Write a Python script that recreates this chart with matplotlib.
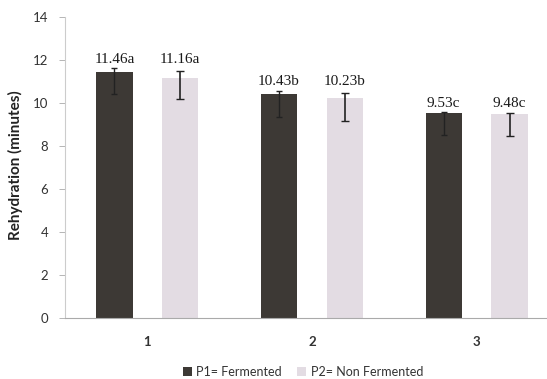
import matplotlib
matplotlib.use("Agg")
import matplotlib.pyplot as plt
import numpy as np

# Rehydration time per sample, fermented (P1) vs non-fermented (P2)
categories = ["1", "2", "3"]
p1_values = [11.46, 10.43, 9.53]
p2_values = [11.16, 10.23, 9.48]
p1_letters = ["a", "b", "c"]
p2_letters = ["a", "b", "c"]
# error extents below / above each bar
p1_err_low = [1.06, 1.06, 1.02]
p1_err_high = [0.15, 0.15, 0.07]
p2_err_low = [0.97, 1.05, 1.03]
p2_err_high = [0.31, 0.22, 0.07]
series_names = ["P1= Fermented", "P2= Non Fermented"]
y_ticks = [0, 2, 4, 6, 8, 10, 12, 14]

W, H = 547, 379
fig = plt.figure(figsize=(W / 100, H / 100), dpi=100)
left, right = 65 / W, 559 / W
bottom, top = 1 - 318 / H, 1 - 17 / H
ax = fig.add_axes([left, bottom, right - left, top - bottom])

x = np.arange(1, len(categories) + 1)
bw = 0.22
off = 0.20
dark = "#3d3935"
light = "#e3dce3"

b1 = ax.bar(x - off, p1_values, width=bw, color=dark, zorder=2, label=series_names[0])
b2 = ax.bar(x + off, p2_values, width=bw, color=light, zorder=2, label=series_names[1])
ax.errorbar(x - off, p1_values, yerr=[p1_err_low, p1_err_high], fmt="none",
            ecolor="#222222", elinewidth=1.0, capsize=2.5, capthick=1.0, zorder=3)
ax.errorbar(x + off, p2_values, yerr=[p2_err_low, p2_err_high], fmt="none",
            ecolor="#222222", elinewidth=1.2, capsize=3, capthick=1.0, zorder=3)

# value labels, aligned per group above the taller error bar
for i in range(len(categories)):
    ytop = max(p1_values[i] + p1_err_high[i], p2_values[i] + p2_err_high[i])
    for xi, v, let in ((x[i] - off, p1_values[i], p1_letters[i]),
                       (x[i] + off, p2_values[i], p2_letters[i])):
        ax.annotate(f"{v:.2f}{let}", (xi, ytop), xytext=(0, 1.5),
                    textcoords="offset points", ha="center", va="bottom",
                    fontsize=11, family="Liberation Serif", color="#1a1a1a")

ax.set_xlim(0.5, 3.5)
ax.set_ylim(0, 14)
ax.set_yticks(y_ticks)
ax.set_yticklabels([str(t) for t in y_ticks], fontsize=9.5, family="Lato",
                   color="#333333")
ax.set_xticks(x)
ax.set_xticklabels(categories, fontsize=9.5, family="Lato", fontweight="bold",
                   color="#333333")
ax.tick_params(axis="x", length=0, pad=13)
ax.tick_params(axis="y", length=4, width=0.6, color="#aaaaaa", pad=8)

for s in ("top", "right"):
    ax.spines[s].set_visible(False)
ax.spines["left"].set_color("#cccccc")
ax.spines["left"].set_linewidth(0.8)
ax.spines["bottom"].set_color("#aaaaaa")
ax.spines["bottom"].set_linewidth(0.8)

fig.text(15 / W, 1 - 165 / H, "Rehydration (minutes)", rotation=90,
         ha="center", va="center", fontsize=11, family="Lato",
         fontweight="bold", color="#222222")

fig.legend(handles=[b1, b2], labels=series_names, loc="center",
           bbox_to_anchor=(303 / W, 1 - 372 / H), ncol=2, frameon=False,
           prop={"family": "Lato", "size": 9}, handlelength=0.7,
           handleheight=0.7, handletextpad=0.4, columnspacing=1.2,
           labelcolor="#333333")

fig.savefig("out.png", dpi=100)
